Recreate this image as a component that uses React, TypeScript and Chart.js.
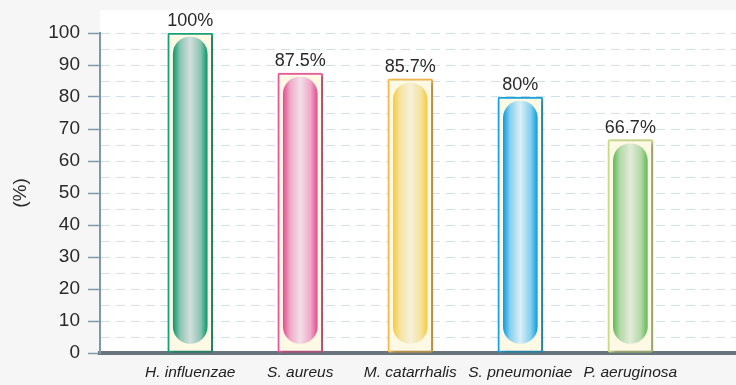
import React, { useEffect, useRef } from 'react';
import { Chart, registerables } from 'chart.js';

Chart.register(...registerables);

const categories = ['H. influenzae', 'S. aureus', 'M. catarrhalis', 'S. pneumoniae', 'P. aeruginosa'];
const values = [100, 87.5, 85.7, 80, 66.7];
const valueLabels = ['100%', '87.5%', '85.7%', '80%', '66.7%'];
const boxBorderColors = ['#19a27c', '#ea5a9c', '#f7bd4f', '#18a5e0', '#c9dc8a'];
const capsuleEdgeColors = ['#0c9a6c', '#e24f92', '#f5cc45', '#0e9fdf', '#64bb5a'];
const capsuleMidColors = ['#8cc4b2', '#ef a8c8'.replace(' ', ''), '#f5e3a0', '#86d0ef', '#b5d9a8'];
const capsuleCenterColors = ['#d3dfdc', '#f2e0e8', '#f6f1dc', '#dbeff8', '#e2ecd9'];

const FONT = '"Liberation Sans", Arial, Helvetica, sans-serif';

export default function App() {
  const ref = useRef<HTMLCanvasElement | null>(null);

  useEffect(() => {
    const canvas = ref.current;
    if (!canvas) return;

    const capsuleFill = (ctx: any) => {
      const chart = ctx.chart;
      const i = ctx.dataIndex;
      if (!chart.chartArea || i === undefined) return capsuleEdgeColors[0];
      const x = chart.scales.x.getPixelForValue(i + 1);
      const g = chart.ctx.createLinearGradient(x - 17, 0, x + 17, 0);
      g.addColorStop(0, capsuleEdgeColors[i]);
      g.addColorStop(0.2, capsuleMidColors[i]);
      g.addColorStop(0.5, capsuleCenterColors[i]);
      g.addColorStop(0.8, capsuleMidColors[i]);
      g.addColorStop(1, capsuleEdgeColors[i]);
      return g;
    };

    const bgPlugin = {
      id: 'bg',
      beforeDraw(chart: any) {
        const { ctx, chartArea } = chart;
        ctx.save();
        ctx.fillStyle = '#f6f6f6';
        ctx.fillRect(0, 0, chart.width, chart.height);
        ctx.fillStyle = '#ffffff';
        ctx.fillRect(chartArea.left, chartArea.top - 23, chartArea.right - chartArea.left, chartArea.bottom - chartArea.top + 23);
        ctx.restore();
      },
    };

    const shadowPlugin = {
      id: 'shadow',
      beforeDatasetDraw(chart: any, args: any) {
        if (args.index !== 0) return;
        const c = chart.ctx;
        c.save();
        c.shadowColor = 'rgba(60,60,60,0.45)';
        c.shadowOffsetX = 3;
        c.shadowOffsetY = 2;
        c.shadowBlur = 4;
      },
      afterDatasetDraw(chart: any, args: any) {
        if (args.index !== 0) return;
        chart.ctx.restore();
      },
    };

    const labelPlugin = {
      id: 'valueLabels',
      afterDatasetsDraw(chart: any) {
        const meta = chart.getDatasetMeta(0);
        const c = chart.ctx;
        c.save();
        c.font = `18px ${FONT}`;
        c.fillStyle = '#2a2a2a';
        c.textAlign = 'center';
        c.textBaseline = 'alphabetic';
        meta.data.forEach((el: any, i: number) => {
          c.fillText(valueLabels[i], el.x, el.y - 7);
        });
        c.restore();
      },
    };

    const chart = new Chart(canvas, {
      type: 'bar',
      data: {
        datasets: [
          {
            label: 'box',
            data: values.map((v, i) => ({ x: i + 1, y: v })),
            backgroundColor: '#fdf9e4',
            borderColor: boxBorderColors,
            borderWidth: 2,
            borderRadius: 2,
            borderSkipped: false,
            barThickness: 45,
            grouped: false,
            order: 2,
          } as any,
          {
            label: 'capsule',
            data: values.map((v, i) => ({ x: i + 1, y: [3, v - 1.3] })),
            backgroundColor: capsuleFill,
            borderWidth: 0,
            borderRadius: 20,
            borderSkipped: false,
            barThickness: 34,
            grouped: false,
            order: 1,
          } as any,
        ],
      },
      options: {
        animation: false,
        responsive: false,
        events: [],
        layout: { padding: { top: 33, left: 0, right: 0, bottom: 0 } },
        plugins: {
          legend: { display: false },
          tooltip: { enabled: false },
        },
        scales: {
          x: {
            type: 'linear',
            offset: false,
            min: 0.18,
            max: 5.96,
            afterBuildTicks: (scale: any) => {
              scale.ticks = categories.map((_, i) => ({ value: i + 1 }));
            },
            afterFit: (scale: any) => {
              scale.height = 32;
            },
            ticks: {
              callback: (v: any) => categories[Math.round(v) - 1] ?? '',
              font: { family: FONT, size: 15.5, style: 'italic' },
              color: '#222222',
              padding: 10,
              maxRotation: 0,
              autoSkip: false,
            },
            grid: { display: false, drawTicks: false, offset: false },
            border: { display: true, color: '#68757d', width: 4 },
          },
          y: {
            min: 0,
            max: 100,
            afterFit: (scale: any) => {
              scale.width = 100;
            },
            ticks: {
              stepSize: 5,
              autoSkip: false,
              callback: (v: any) => (v % 10 === 0 ? String(v) : ''),
              font: { family: FONT, size: 19 },
              color: '#2a2a2a',
              padding: 8,
            },
            grid: {
              color: '#cde0ec',
              lineWidth: 1,
              tickLength: 12,
              tickWidth: 1.5,
              tickColor: (ctx: any) => (ctx.tick && ctx.tick.value % 10 === 0 ? '#7d98ab' : 'rgba(0,0,0,0)'),
            },
            border: { display: true, color: '#7d98ab', width: 2, dash: [9, 6] },
            title: {
              display: true,
              text: '(%)',
              font: { family: FONT, size: 19 },
              color: '#2a2a2a',
              padding: { top: 9, bottom: 0 },
            },
          },
        },
      },
      plugins: [bgPlugin, shadowPlugin, labelPlugin],
    } as any);

    return () => chart.destroy();
  }, []);

  return (
    <div style={{ position: 'absolute', left: 0, top: 0, width: 736, height: 385 }}>
      <canvas ref={ref} width={736} height={385} style={{ display: 'block' }} />
    </div>
  );
}
